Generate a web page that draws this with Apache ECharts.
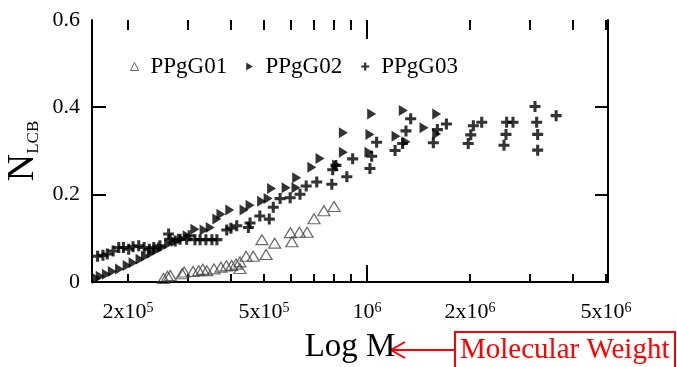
<!DOCTYPE html>
<html>
<head>
<meta charset="utf-8">
<script src="https://cdn.jsdelivr.net/npm/echarts@6/dist/echarts.min.js"></script>
<style>
html, body { margin: 0; padding: 0; background: #fff; }
#chart { width: 677px; height: 367px; }
</style>
</head>
<body>
<div id="chart"></div>
<script>
// 数据：[分子量 M, N_LCB]
var ppgg01 = [
    [254000, 0.008], [261000, 0.013], [266000, 0.015], [288000, 0.019], [292000, 0.023],
    [310000, 0.024], [322000, 0.026], [331000, 0.029], [340000, 0.026], [357000, 0.030],
    [374000, 0.034], [388000, 0.037], [402000, 0.038], [414000, 0.041], [425000, 0.046],
    [425000, 0.031], [443000, 0.059], [465000, 0.059], [493000, 0.097], [507000, 0.063],
    [537000, 0.089], [597000, 0.113], [603000, 0.092], [634000, 0.114], [668000, 0.114],
    [700000, 0.145], [748000, 0.163], [801000, 0.173]
];
var ppgg02 = [
    [162000, 0.008], [166000, 0.013], [173000, 0.018], [180000, 0.024], [189000, 0.030],
    [199000, 0.038], [207000, 0.044], [217000, 0.052], [225000, 0.059], [234000, 0.066],
    [243000, 0.073], [251000, 0.079], [263000, 0.087], [275000, 0.093], [287000, 0.099],
    [298000, 0.106], [314000, 0.121], [334000, 0.119], [348000, 0.125], [364000, 0.144],
    [374000, 0.155], [397000, 0.165], [437000, 0.165], [455000, 0.176], [492000, 0.185],
    [514000, 0.191], [526000, 0.214], [580000, 0.216], [620000, 0.216], [623000, 0.239],
    [690000, 0.263], [729000, 0.283], [815000, 0.268], [853000, 0.297], [853000, 0.342],
    [1013000, 0.297], [1020000, 0.338], [1032000, 0.385], [1216000, 0.334], [1277000, 0.393],
    [1300000, 0.321], [1468000, 0.353], [1599000, 0.385], [1599000, 0.339]
];
var ppgg03 = [
    [163000, 0.059], [169000, 0.061], [174000, 0.064], [181000, 0.071], [188000, 0.079],
    [194000, 0.079], [201000, 0.075], [207000, 0.081], [215000, 0.083], [223000, 0.079],
    [231000, 0.075], [238000, 0.079], [248000, 0.083], [263000, 0.110], [265000, 0.098],
    [275000, 0.094], [284000, 0.098], [297000, 0.098], [302000, 0.106], [314000, 0.097],
    [325000, 0.097], [338000, 0.097], [352000, 0.097], [364000, 0.097], [389000, 0.119],
    [400000, 0.123], [416000, 0.129], [450000, 0.125], [455000, 0.135], [486000, 0.151],
    [518000, 0.144], [532000, 0.171], [557000, 0.191], [596000, 0.193], [637000, 0.201],
    [664000, 0.220], [713000, 0.229], [789000, 0.224], [794000, 0.257], [811000, 0.267],
    [873000, 0.241], [908000, 0.282], [1020000, 0.260], [1032000, 0.288], [1067000, 0.320],
    [1208000, 0.301], [1271000, 0.317], [1300000, 0.346], [1342000, 0.374], [1563000, 0.319],
    [1606000, 0.349], [1707000, 0.362], [1977000, 0.317], [2011000, 0.337], [2046000, 0.358],
    [2165000, 0.366], [2515000, 0.313], [2549000, 0.338], [2560000, 0.366], [2672000, 0.366],
    [3099000, 0.402], [3134000, 0.366], [3155000, 0.338], [3155000, 0.302], [3573000, 0.381]
];
var seriesNames = ['PPgG01', 'PPgG02', 'PPgG03'];
var xLabelValues = [2e5, 5e5, 1e6, 2e6, 5e6];
var xMinorTicks = [2e5, 3e5, 4e5, 5e5, 6e5, 7e5, 8e5, 9e5, 2e6, 3e6, 4e6, 5e6];
var xMajorTicks = [1e6];
var yTicks = [0.2, 0.4];
var xMin = 157000, xMax = 5066000;

var FONT = 'Liberation Serif';
var triRight = 'path://M0,0L10,6L0,12Z';
var plusPath = 'path://M3.6,0H6.4V3.6H10V6.4H6.4V10H3.6V6.4H0V3.6H3.6Z';

// 2x10^5 这种上标标签
function expLabel(v) {
    var e = Math.floor(Math.log10(v) + 1e-9);
    var m = Math.round(v / Math.pow(10, e));
    return (m === 1 ? '{b|10}' : '{b|' + m + 'x10}') + '{p|' + e + '}';
}

var axisLineStyle = { show: true, lineStyle: { color: '#000', width: 2 } };

var chart = echarts.init(document.getElementById('chart'));
var option = {
    animation: false,
    backgroundColor: '#fff',
    grid: { left: 92, right: 69, top: 20, bottom: 85, outerBoundsMode: 'none', containLabel: false },
    legend: {
        left: 130,
        top: 55,
        padding: 0,
        itemWidth: 8,
        itemHeight: 8,
        itemGap: 19,
        textStyle: { fontFamily: FONT, fontSize: 23, color: '#000', padding: [0, 0, 0, 7] },
        data: [
            { name: seriesNames[0], icon: 'triangle', itemStyle: { color: 'transparent', borderColor: '#444', borderWidth: 1 } },
            { name: seriesNames[1], icon: triRight },
            { name: seriesNames[2], icon: plusPath }
        ]
    },
    xAxis: [{
        type: 'log',
        position: 'bottom',
        min: xMin,
        max: xMax,
        name: 'Log M',
        nameLocation: 'middle',
        nameGap: 49,
        nameTextStyle: { fontFamily: FONT, fontSize: 33, color: '#000' },
        axisLine: axisLineStyle,
        axisTick: { show: false },
        minorTick: { show: false },
        splitLine: { show: false },
        axisLabel: {
            customValues: xLabelValues,
            margin: 19,
            formatter: expLabel,
            rich: {
                b: { fontFamily: FONT, fontSize: 22, color: '#000', lineHeight: 22 },
                p: { fontFamily: FONT, fontSize: 14, color: '#000', lineHeight: 14, verticalAlign: 'top' }
            }
        }
    }, {
        type: 'log',
        position: 'top',
        min: xMin,
        max: xMax,
        axisLine: axisLineStyle,
        axisTick: { show: false },
        axisLabel: { show: false },
        splitLine: { show: false }
    }],
    yAxis: [{
        type: 'value',
        position: 'left',
        min: 0,
        max: 0.6,
        interval: 0.2,
        name: '{n|N}{s|LCB}',
        nameLocation: 'middle',
        nameGap: 49,
        nameTextStyle: {
            rich: {
                n: { fontFamily: FONT, fontSize: 38, color: '#000', lineHeight: 38 },
                s: { fontFamily: FONT, fontSize: 17, color: '#000', lineHeight: 17, verticalAlign: 'bottom' }
            }
        },
        axisLine: axisLineStyle,
        axisTick: { show: false },
        axisLabel: { margin: 12, fontFamily: FONT, fontSize: 22, color: '#000' },
        splitLine: { show: false }
    }, {
        type: 'value',
        position: 'right',
        min: 0,
        max: 0.6,
        interval: 0.2,
        axisLine: axisLineStyle,
        axisTick: { show: false },
        axisLabel: { show: false },
        splitLine: { show: false }
    }],
    series: [{
        name: seriesNames[0],
        type: 'scatter',
        symbol: 'triangle',
        symbolSize: [12, 10],
        itemStyle: { color: 'transparent', borderColor: '#444', borderWidth: 1.2 },
        data: ppgg01
    }, {
        name: seriesNames[1],
        type: 'scatter',
        symbol: triRight,
        symbolSize: [9, 11],
        itemStyle: { color: '#000' },
        data: ppgg02
    }, {
        name: seriesNames[2],
        type: 'scatter',
        symbol: plusPath,
        symbolSize: 11,
        itemStyle: { color: '#000' },
        data: ppgg03
    }]
};
chart.setOption(option);

// 刻度线（向内），用坐标轴换算像素位置
var tickStyle = { stroke: '#000', lineWidth: 2 };
var yBottom = chart.convertToPixel({ yAxisIndex: 0 }, 0);
var yTop = chart.convertToPixel({ yAxisIndex: 0 }, 0.6);
var xLeft = chart.convertToPixel({ xAxisIndex: 0 }, xMin);
var xRight = chart.convertToPixel({ xAxisIndex: 0 }, xMax);
var els = [];
function xTick(v, len) {
    var px = Math.round(chart.convertToPixel({ xAxisIndex: 0 }, v));
    els.push({ type: 'line', shape: { x1: px, y1: yBottom, x2: px, y2: yBottom - len }, style: tickStyle });
    els.push({ type: 'line', shape: { x1: px, y1: yTop, x2: px, y2: yTop + len + 2 }, style: tickStyle });
}
xMinorTicks.forEach(function (v) { xTick(v, 8); });
xMajorTicks.forEach(function (v) { xTick(v, 17); });
yTicks.forEach(function (v) {
    var py = Math.round(chart.convertToPixel({ yAxisIndex: 0 }, v));
    els.push({ type: 'line', shape: { x1: xLeft, y1: py, x2: xLeft + 14, y2: py }, style: tickStyle });
    els.push({ type: 'line', shape: { x1: xRight, y1: py, x2: xRight - 13, y2: py }, style: tickStyle });
});

// 红色注释框和箭头
els.push({
    type: 'rect',
    shape: { x: 455, y: 332, width: 220, height: 50 },
    style: { fill: 'none', stroke: '#f00', lineWidth: 2 }
}, {
    type: 'text',
    x: 460,
    y: 336,
    style: { text: 'Molecular Weight', fontFamily: FONT, fontSize: 29, fill: '#f00' }
}, {
    type: 'line',
    shape: { x1: 455, y1: 350, x2: 392, y2: 350 },
    style: { stroke: '#f00', lineWidth: 2 }
}, {
    type: 'polyline',
    shape: { points: [[405, 342], [391, 350], [405, 358]] },
    style: { stroke: '#f00', lineWidth: 2, fill: 'none' }
});
chart.setOption({ graphic: { elements: els } });
</script>
</body>
</html>
